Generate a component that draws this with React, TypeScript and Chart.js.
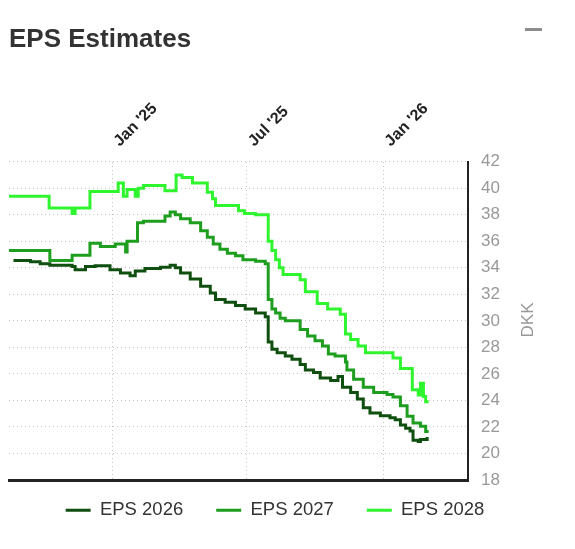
import React, { useEffect, useRef } from "react";
import { Chart, registerables } from "chart.js";

Chart.register(...registerables);

const FONT = "'Liberation Sans', Arial, Helvetica, sans-serif";

const titleText = "EPS Estimates";
const unitText = "DKK";
const seriesNames = ["EPS 2026", "EPS 2027", "EPS 2028"];
const seriesColors = ["#0f4f0f", "#1e9e1e", "#2ef52e"];

const axisStart = "2024-08-15";
const axisEnd = "2026-04-25";
const tickDates = ["2025-01-01", "2025-07-01", "2026-01-01"];
const tickLabels = ["Jan '25", "Jul '25", "Jan '26"];
const yMin = 18;
const yMax = 42;
const yStep = 2;

const dates2026 = ["2024-08-21","2024-09-13","2024-09-26","2024-10-09","2024-11-08","2024-11-12","2024-11-26","2024-12-09","2024-12-29","2025-01-12","2025-01-25","2025-02-01","2025-02-14","2025-03-07","2025-03-20","2025-03-27","2025-04-03","2025-04-16","2025-04-30","2025-05-13","2025-05-20","2025-06-02","2025-06-16","2025-06-29","2025-07-13","2025-07-26","2025-07-30","2025-08-04","2025-08-11","2025-08-22","2025-08-31","2025-09-11","2025-09-18","2025-09-29","2025-10-08","2025-10-22","2025-11-01","2025-11-07","2025-11-18","2025-11-27","2025-12-05","2025-12-14","2025-12-28","2026-01-10","2026-01-17","2026-01-24","2026-01-31","2026-02-06","2026-02-10","2026-02-17","2026-02-20","2026-03-01"];
const eps2026 = [34.55,34.45,34.3,34.2,34.1,33.85,34.1,34.15,33.85,33.6,33.4,33.75,33.95,34.05,34.2,34.0,33.6,33.15,32.6,32.1,31.6,31.4,31.15,30.9,30.6,30.3,28.4,27.85,27.6,27.35,27.1,26.7,26.3,26.1,25.7,25.5,25.8,25.0,24.6,24.1,23.45,23.05,22.85,22.7,22.55,22.15,21.9,21.7,21.0,20.9,21.05,21.25];

const dates2027 = ["2024-08-15","2024-10-09","2024-11-08","2024-12-02","2024-12-16","2025-01-05","2025-01-19","2025-01-21","2025-02-04","2025-02-12","2025-03-13","2025-03-20","2025-03-27","2025-04-03","2025-04-16","2025-04-30","2025-05-09","2025-05-17","2025-05-26","2025-06-05","2025-06-16","2025-06-26","2025-07-13","2025-07-26","2025-07-30","2025-08-04","2025-08-09","2025-08-15","2025-08-22","2025-09-11","2025-09-21","2025-10-01","2025-10-11","2025-10-19","2025-10-28","2025-11-11","2025-11-13","2025-11-22","2025-12-05","2025-12-19","2026-01-06","2026-01-14","2026-01-24","2026-02-02","2026-02-10","2026-02-20","2026-02-27","2026-03-03"];
const eps2027 = [35.3,34.55,34.95,35.85,35.6,35.8,35.2,36.0,37.4,37.5,37.9,38.2,38.0,37.7,37.4,36.8,36.3,35.8,35.4,35.1,34.9,34.6,34.5,34.3,31.6,30.9,30.6,30.2,30.0,29.35,28.85,28.5,28.1,27.5,27.35,26.9,26.3,25.6,25.0,24.6,24.45,24.25,23.6,22.8,22.3,22.05,21.65,21.65];

const dates2028 = ["2024-08-15","2024-10-08","2024-11-08","2024-11-12","2024-12-02","2025-01-09","2025-01-16","2025-01-21","2025-02-01","2025-02-05","2025-02-12","2025-03-13","2025-03-28","2025-04-05","2025-04-19","2025-05-09","2025-05-16","2025-05-20","2025-06-20","2025-06-28","2025-07-13","2025-07-30","2025-08-04","2025-08-09","2025-08-14","2025-08-19","2025-09-11","2025-09-18","2025-10-04","2025-10-18","2025-11-04","2025-11-11","2025-11-18","2025-11-28","2025-12-08","2026-01-14","2026-01-24","2026-02-09","2026-02-17","2026-02-20","2026-02-24","2026-02-27","2026-03-03"];
const eps2028 = [39.4,38.5,38.1,38.5,39.75,40.4,39.4,39.9,39.4,40.0,40.2,39.8,41.0,40.8,40.4,39.7,39.2,38.7,38.3,38.1,38.0,36.0,35.3,34.6,34.0,33.5,33.1,32.2,31.3,30.9,30.5,29.0,28.6,28.1,27.6,27.2,26.4,24.8,24.4,25.3,24.3,23.9,23.9];

const BASE = Date.UTC(2025, 0, 1);
function toDay(s: string): number {
  const [y, m, d] = s.split("-").map(Number);
  return (Date.UTC(y, m - 1, d) - BASE) / 86400000;
}

const legendLift = 12;

const legendShift = {
  id: "legendShift",
  afterLayout(chart: any) {
    const lg = chart.legend;
    if (lg) {
      lg.top -= legendLift;
      lg.bottom -= legendLift;
    }
  },
};

export default function App() {
  const ref = useRef<HTMLCanvasElement>(null);

  useEffect(() => {
    const canvas = ref.current;
    if (!canvas) return;
    Chart.defaults.font.family = FONT;
    const series: [string[], number[]][] = [
      [dates2026, eps2026],
      [dates2027, eps2027],
      [dates2028, eps2028],
    ];
    const chart = new Chart(canvas, {
      type: "line",
      data: {
        datasets: series.map(([ds, vs], i) => ({
          label: seriesNames[i],
          data: ds.map((d, j) => ({ x: toDay(d), y: vs[j] })),
          borderColor: seriesColors[i],
          backgroundColor: seriesColors[i],
          borderWidth: 3,
          pointRadius: 0,
          pointHoverRadius: 0,
          stepped: true,
          fill: false,
          xAxisID: "x",
          yAxisID: "y",
        })),
      },
      options: {
        animation: false,
        responsive: false,
        maintainAspectRatio: false,
        events: [],
        layout: { padding: { left: 9, right: 34, top: 0, bottom: 7.5 } },
        plugins: {
          tooltip: { enabled: false },
          title: {
            display: true,
            text: titleText,
            align: "start",
            color: "#333333",
            font: { size: 26, weight: "bold", family: FONT },
            padding: { top: 24, bottom: 33 },
          },
          legend: {
            position: "bottom",
            labels: {
              boxWidth: 25,
              boxHeight: 3,
              padding: 33,
              color: "#333333",
              font: { size: 18.5, family: FONT },
              generateLabels: (c: any) =>
                Chart.defaults.plugins.legend.labels
                  .generateLabels(c)
                  .map((l: any) => ({ ...l, fillStyle: l.strokeStyle, lineWidth: 0 })),
            },
          },
        },
        scales: {
          x: {
            type: "linear",
            position: "top",
            min: toDay(axisStart),
            max: toDay(axisEnd),
            afterBuildTicks: (s: any) => {
              s.ticks = tickDates.map((d) => ({ value: toDay(d) }));
            },
            ticks: {
              autoSkip: false,
              minRotation: 45,
              maxRotation: 45,
              padding: 11,
              labelOffset: 18,
              color: "#222222",
              font: { size: 16, weight: "bold", family: FONT },
              callback: (v: any) => {
                const i = tickDates.findIndex((d) => toDay(d) === v);
                return i >= 0 ? tickLabels[i] : "";
              },
            },
            grid: { color: "#c4c4c4", lineWidth: 1, drawTicks: false },
            border: { display: false, dash: [1, 3] },
          },
          x2: {
            type: "linear",
            position: "bottom",
            min: toDay(axisStart),
            max: toDay(axisEnd),
            ticks: { display: false },
            grid: { display: false, drawTicks: false },
            border: { display: true, color: "#222222", width: 3 },
          },
          y: {
            position: "right",
            min: yMin,
            max: yMax,
            ticks: {
              stepSize: yStep,
              color: "#999999",
              font: { size: 17, family: FONT },
              padding: 13,
            },
            grid: { color: "#c4c4c4", lineWidth: 1, drawTicks: false },
            border: { display: true, color: "#222222", width: 2, dash: [1, 3] },
            afterFit: (s: any) => {
              s.width = 73;
            },
          },
        },
      } as any,
      plugins: [legendShift],
    });
    return () => chart.destroy();
  }, []);

  return (
    <div style={{ position: "absolute", left: 0, top: 0, width: 575, height: 549, background: "#ffffff" }}>
      <canvas ref={ref} width={575} height={549} style={{ display: "block", width: 575, height: 549 }} />
      <div style={{ position: "absolute", left: 525, top: 28, width: 17, height: 3, background: "#8c8c8c" }} />
      <div
        style={{
          position: "absolute",
          left: 528,
          top: 320,
          transform: "translate(-50%, -50%) rotate(-90deg)",
          font: `17px ${FONT}`,
          color: "#999999",
          whiteSpace: "nowrap",
        }}
      >
        {unitText}
      </div>
    </div>
  );
}
